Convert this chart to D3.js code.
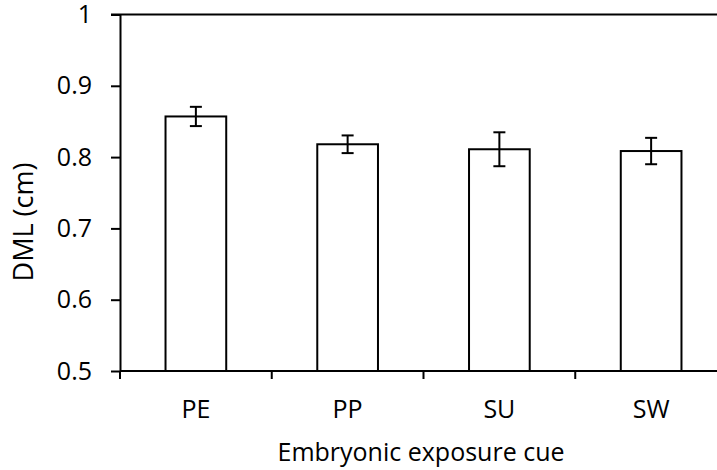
<!DOCTYPE html>
<html>
<head>
<meta charset="utf-8">
<script src="https://cdn.jsdelivr.net/npm/d3@7"></script>
<style>
  html, body { margin: 0; padding: 0; background: #fff; }
  svg { display: block; font-family: "Open Sans", sans-serif; }
</style>
</head>
<body>
<svg id="chart" width="717" height="470"></svg>
<script>
// Dorsal mantle length by embryonic exposure cue (mean ± error)
const categories = ["PE", "PP", "SU", "SW"];
const means = [0.857, 0.818, 0.811, 0.8085];
const errors = [0.0135, 0.0124, 0.0238, 0.0185];
const yTicks = [0.5, 0.6, 0.7, 0.8, 0.9, 1];
const yTickLabels = ["0.5", "0.6", "0.7", "0.8", "0.9", "1"];

const svg = d3.select("#chart");

const plotLeft = 120, plotRight = 727, plotTop = 14.5, plotBottom = 371;

const x = d3.scaleBand().domain(categories).range([plotLeft, plotRight]).padding(0);
const y = d3.scaleLinear().domain([0.5, 1]).range([plotBottom, plotTop]);

const barW = x.bandwidth() * 0.4;
const capW = 12;

// top frame line at y = 1
svg.append("line")
  .attr("x1", plotLeft - 9).attr("x2", plotRight)
  .attr("y1", y(1)).attr("y2", y(1))
  .attr("stroke", "#000").attr("stroke-width", 2);

// bars
svg.append("g").selectAll("rect")
  .data(categories)
  .join("rect")
  .attr("x", d => x(d) + (x.bandwidth() - barW) / 2)
  .attr("y", (d, i) => y(means[i]))
  .attr("width", barW)
  .attr("height", (d, i) => y(0.5) - y(means[i]))
  .attr("fill", "#fff")
  .attr("stroke", "#000")
  .attr("stroke-width", 2);

// error bars
const eb = svg.append("g").attr("stroke", "#000").attr("stroke-width", 2);
categories.forEach((c, i) => {
  const cx = x(c) + x.bandwidth() / 2;
  const hi = y(means[i] + errors[i]);
  const lo = y(means[i] - errors[i]);
  eb.append("line").attr("x1", cx).attr("x2", cx).attr("y1", hi).attr("y2", lo);
  eb.append("line").attr("x1", cx - capW / 2).attr("x2", cx + capW / 2).attr("y1", hi).attr("y2", hi);
  eb.append("line").attr("x1", cx - capW / 2).attr("x2", cx + capW / 2).attr("y1", lo).attr("y2", lo);
});

// y axis
const yAxis = d3.axisLeft(y)
  .tickValues(yTicks)
  .tickFormat((d, i) => yTickLabels[i])
  .tickSize(9)
  .tickPadding(19)
  .tickSizeOuter(0);
const gy = svg.append("g").attr("transform", `translate(${plotLeft},0)`).call(yAxis);
gy.select(".domain").attr("stroke-width", 2);
gy.selectAll(".tick line").attr("stroke-width", 2);
gy.selectAll(".tick text").attr("font-size", 25).attr("fill", "#000")
  .attr("font-family", "'Open Sans', sans-serif");

// x axis with ticks at band boundaries
const xAxisG = svg.append("g").attr("transform", `translate(0,${plotBottom})`);
xAxisG.append("line")
  .attr("x1", plotLeft).attr("x2", plotRight)
  .attr("stroke", "#000").attr("stroke-width", 2);
const boundaries = categories.map(c => x(c)).concat([plotRight]);
xAxisG.selectAll(".bt")
  .data(boundaries)
  .join("line")
  .attr("x1", d => d).attr("x2", d => d)
  .attr("y1", 0).attr("y2", 8)
  .attr("stroke", "#000").attr("stroke-width", 2);
xAxisG.selectAll("text")
  .data(categories)
  .join("text")
  .attr("x", d => x(d) + x.bandwidth() / 2)
  .attr("y", 47)
  .attr("text-anchor", "middle")
  .attr("font-size", 25)
  .attr("fill", "#000")
  .text(d => d);

// axis titles
svg.append("text")
  .attr("x", 421).attr("y", 461)
  .attr("text-anchor", "middle")
  .attr("font-size", 25)
  .attr("fill", "#000")
  .text("Embryonic exposure cue");

svg.append("text")
  .attr("transform", "translate(33,222) rotate(-90)")
  .attr("text-anchor", "middle")
  .attr("font-size", 27)
  .attr("fill", "#000")
  .text("DML (cm)");
</script>
</body>
</html>
